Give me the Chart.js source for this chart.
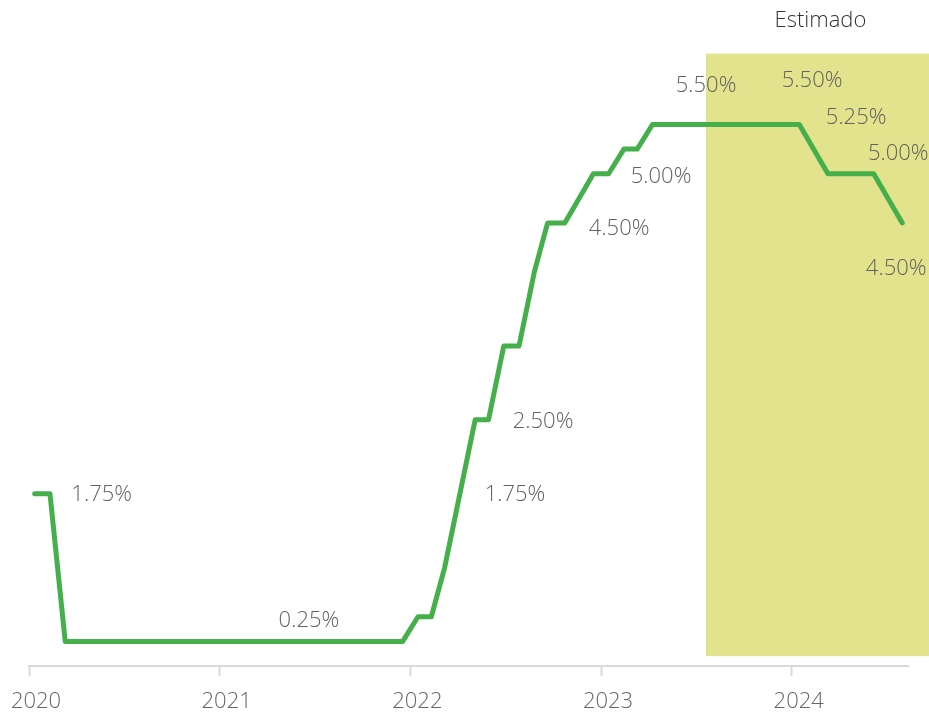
<!DOCTYPE html>
<html>
<head>
<meta charset="utf-8">
<script src="https://cdn.jsdelivr.net/npm/chart.js@4"></script>
<style>
  body { margin: 0; background: #fff; }
  canvas { display: block; }
</style>
</head>
<body>
<canvas id="rate_chart" width="929" height="715"></canvas>
<script>
// rate path (x = decimal year, y = percent)
const rateYears = [2020.03, 2020.11, 2020.19, 2021.96, 2022.04, 2022.11, 2022.18, 2022.34, 2022.41, 2022.49, 2022.57, 2022.65, 2022.72, 2022.81, 2022.96, 2023.04, 2023.12, 2023.19, 2023.27, 2024.04, 2024.19, 2024.43, 2024.58];
const rateValues = [1.75, 1.75, 0.25, 0.25, 0.5, 0.5, 1.0, 2.5, 2.5, 3.25, 3.25, 4.0, 4.5, 4.5, 5.0, 5.0, 5.25, 5.25, 5.5, 5.5, 5.0, 5.0, 4.5];

const tickYears = [2020, 2021, 2022, 2023, 2024];

// data labels, anchored at their left edge
const labelTexts = ["1.75%", "0.25%", "1.75%", "2.50%", "4.50%", "5.00%", "5.50%", "5.50%", "5.25%", "5.00%", "4.50%"];
const labelYears = [2020.222, 2021.309, 2022.39, 2022.537, 2022.936, 2023.156, 2023.392, 2023.948, 2024.179, 2024.40, 2024.389];
const labelValues = [1.74, 0.46, 1.74, 2.48, 4.44, 4.97, 5.89, 5.94, 5.57, 5.20, 4.03];

// forecast band
const estimateStart = 2023.55;
const estimateEnd = 2024.72;
const estimateTop = 6.22;
const estimateBottom = 0.1;
const estimateTitle = "Estimado";

const fontFamily = "'Open Sans', 'Noto Sans', sans-serif";

const overlayPlugin = {
  id: "overlay",
  beforeDatasetsDraw(chart) {
    const { ctx, scales: { x, y } } = chart;
    ctx.save();
    ctx.fillStyle = "#e3e38d";
    const left = x.getPixelForValue(estimateStart);
    const right = x.getPixelForValue(estimateEnd);
    const top = y.getPixelForValue(estimateTop);
    const bottom = y.getPixelForValue(estimateBottom);
    ctx.fillRect(left, top, right - left, bottom - top);
    ctx.restore();
  },
  afterDatasetsDraw(chart) {
    const { ctx, scales: { x, y } } = chart;
    ctx.save();
    ctx.font = "300 22px " + fontFamily;
    ctx.fillStyle = "#626262";
    ctx.textAlign = "left";
    ctx.textBaseline = "middle";
    labelTexts.forEach((t, i) => {
      ctx.fillText(t, x.getPixelForValue(labelYears[i]), y.getPixelForValue(labelValues[i]));
    });
    ctx.fillStyle = "#333333";
    ctx.fillText(estimateTitle, x.getPixelForValue(2023.91), y.getPixelForValue(6.55));
    ctx.restore();
  },
};

const chartCanvas = document.getElementById("rate_chart");
new Chart(chartCanvas, {
  type: "line",
  data: {
    datasets: [
      {
        data: rateYears.map((yr, i) => ({ x: yr, y: rateValues[i] })),
        borderColor: "#45b04b",
        borderWidth: 5,
        borderCapStyle: "round",
        borderJoinStyle: "round",
        pointRadius: 0,
        tension: 0,
        fill: false,
        clip: false,
      },
    ],
  },
  options: {
    responsive: false,
    devicePixelRatio: 1,
    animation: false,
    layout: { padding: { left: 29, right: 21, top: 26, bottom: 0 } },
    plugins: { legend: { display: false }, tooltip: { enabled: false } },
    scales: {
      x: {
        type: "linear",
        min: 2020,
        max: 2024.61,
        afterBuildTicks: (scale) => {
          scale.ticks = tickYears.map((v) => ({ value: v }));
        },
        grid: {
          drawOnChartArea: false,
          drawTicks: true,
          tickLength: 23,
          tickWidth: 2,
          tickBorderDash: [9, 60],
          color: "#d9d9d9",
        },
        border: { display: true, color: "#d9d9d9", width: 2 },
        ticks: {
          padding: 2,
          labelOffset: 7,
          color: "#666666",
          font: { family: fontFamily, size: 22, weight: "300", lineHeight: 1.0 },
          maxRotation: 0,
          callback: (v) => String(v),
        },
      },
      y: {
        display: false,
        min: 0,
        max: 6.5,
      },
    },
  },
  plugins: [overlayPlugin],
});
</script>
</body>
</html>
